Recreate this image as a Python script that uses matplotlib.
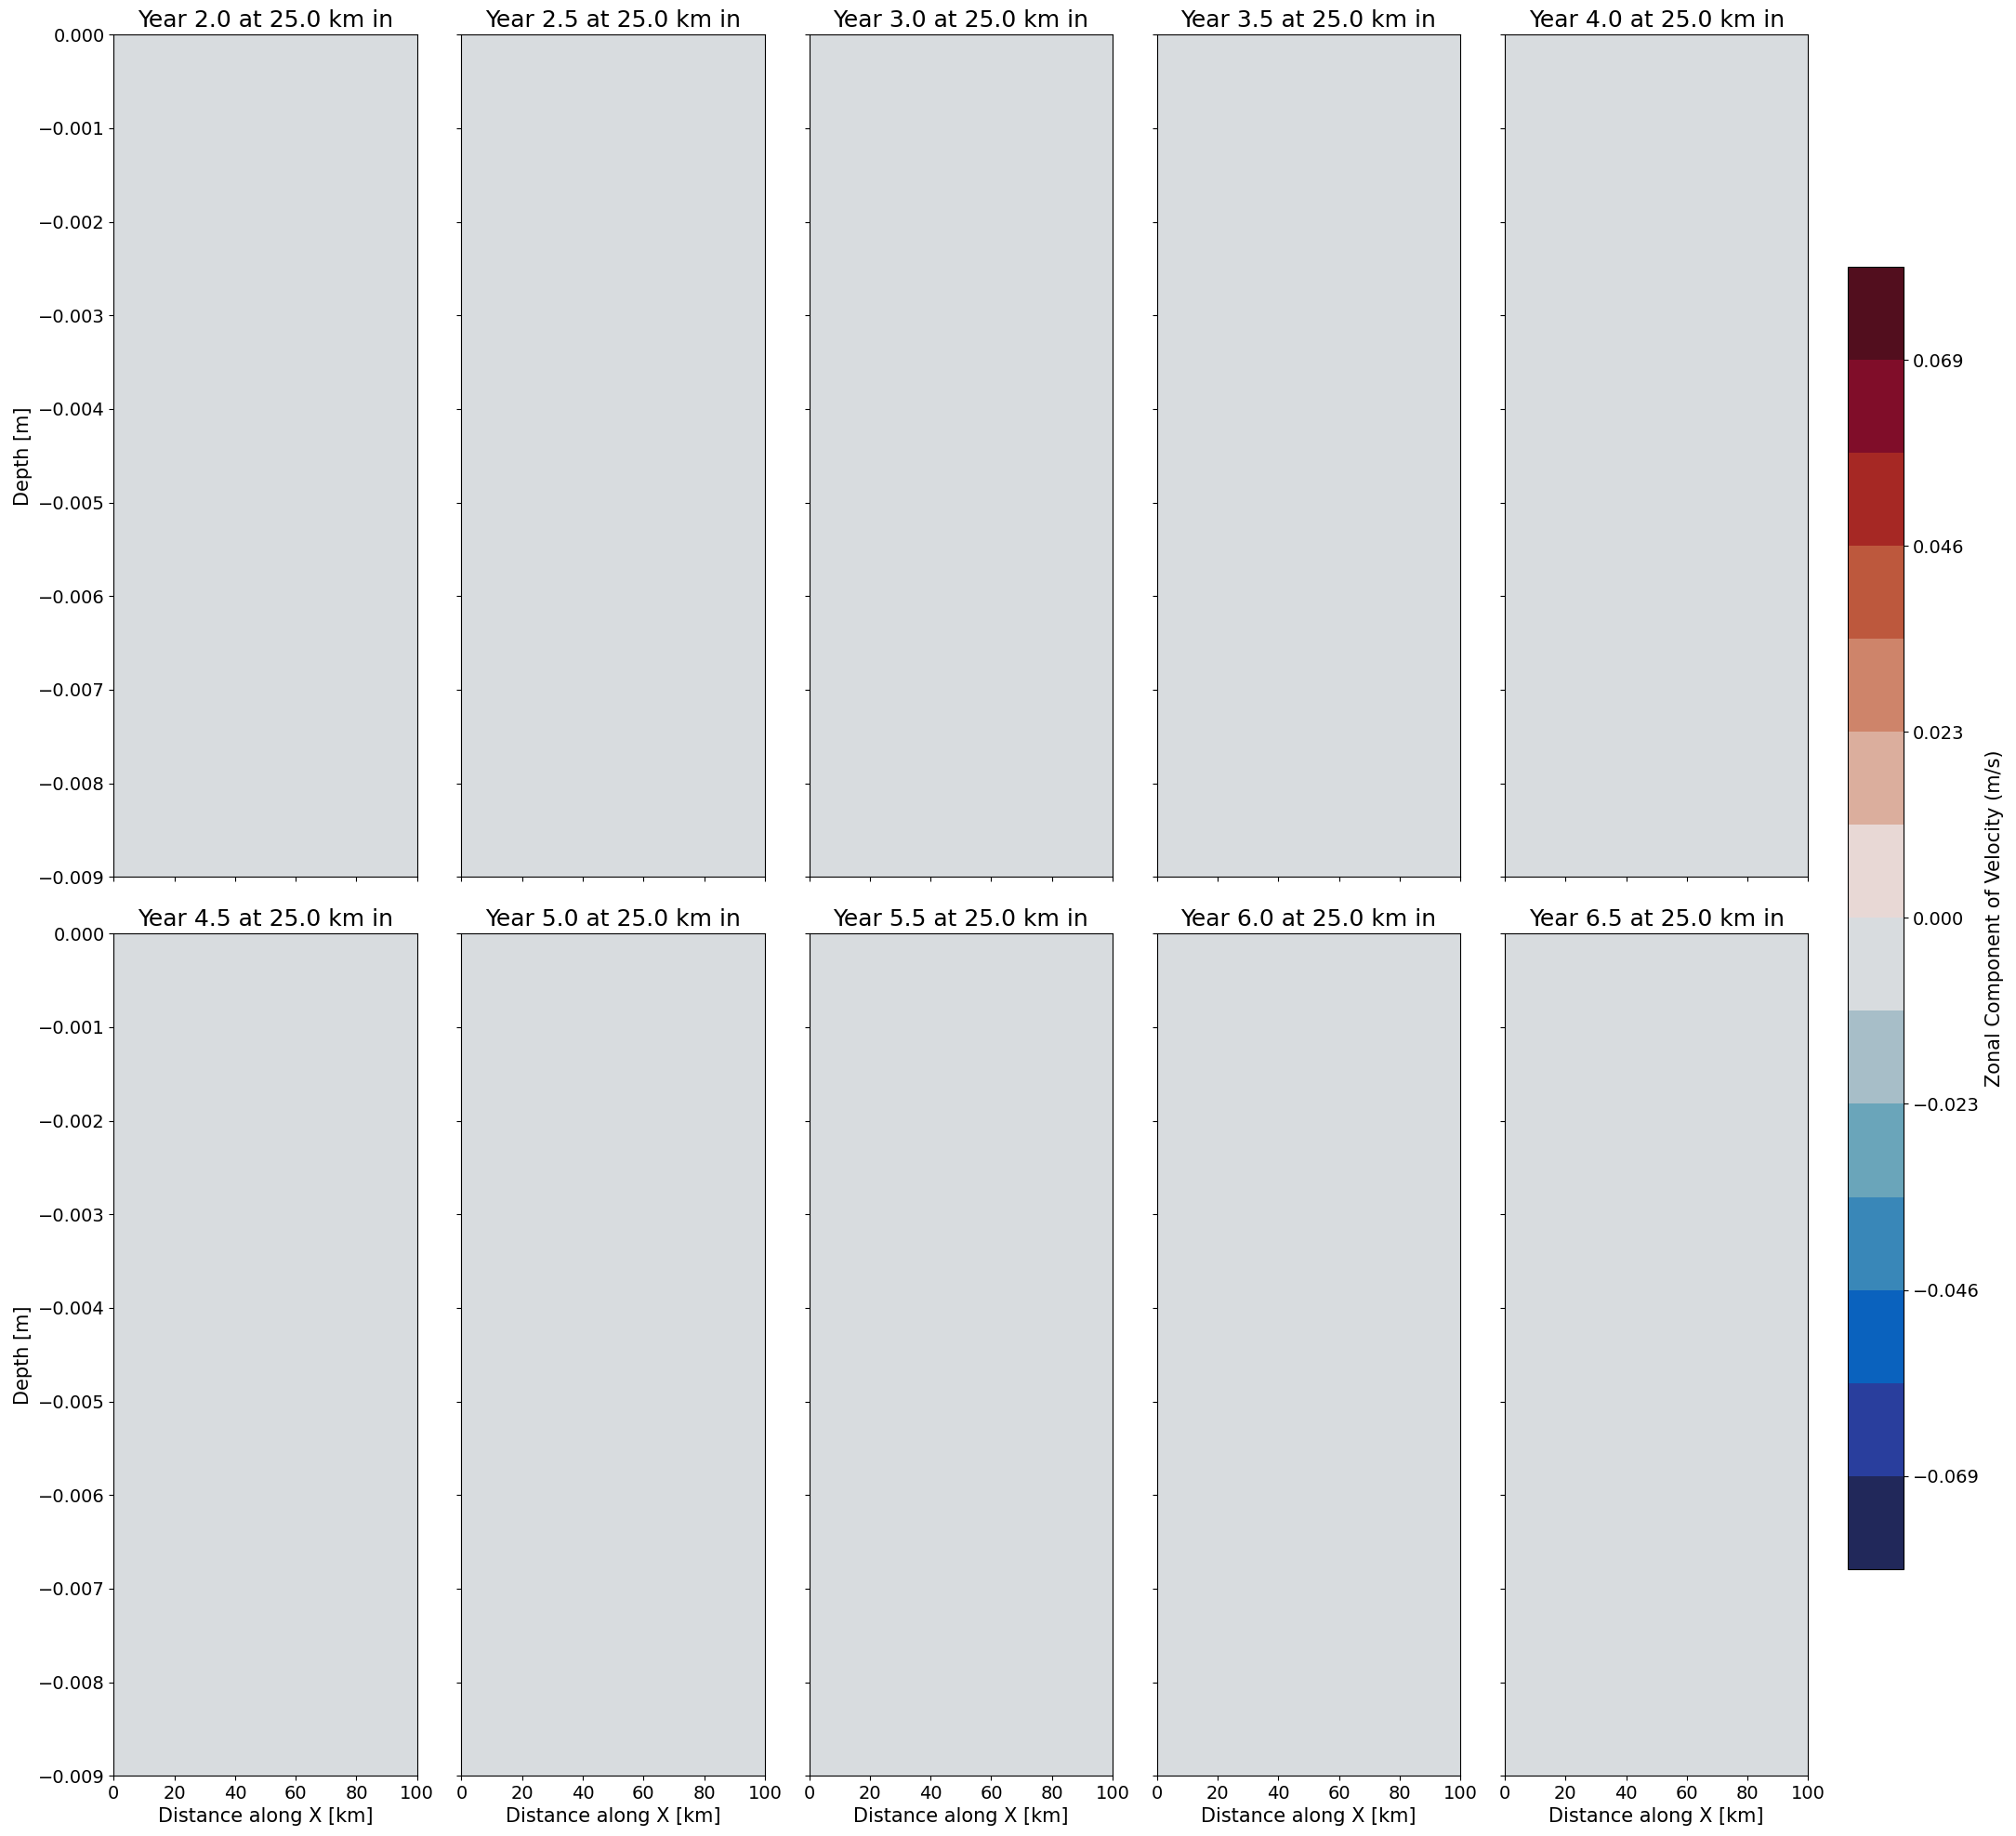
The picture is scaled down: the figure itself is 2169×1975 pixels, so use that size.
import numpy as np
import matplotlib.pyplot as plt
from matplotlib.colors import ListedColormap
from matplotlib.ticker import FuncFormatter

# snapshot years and section position
years = [2.0, 2.5, 3.0, 3.5, 4.0, 4.5, 5.0, 5.5, 6.0, 6.5]
section_km = 25.0

# grid of the section
x_km = [0.0, 25.0, 50.0, 75.0, 100.0]
depth_m = [-0.009, -0.006, -0.003, 0.0]

# zonal velocity along the section (m/s) - flat zero field every year
u_zonal = {yr: [[0.0] * len(x_km) for _ in depth_m] for yr in years}

# contour levels and colors (balance-like diverging map)
levels = list(np.linspace(-0.08, 0.08, 15))
balance_colors = ['#21285A', '#293E9D', '#0A62BE', '#3987B8', '#6AA5BA',
                  '#A7BEC8', '#D8DCDF', '#E8D8D5', '#DBAE9D', '#CE846A',
                  '#BD583D', '#A62824', '#800D29', '#520E1E']
cmap = ListedColormap(balance_colors)

x_ticks = [0, 20, 40, 60, 80, 100]
y_ticks = list(np.linspace(-0.009, 0.0, 10))

plt.rcParams['font.size'] = 14

fig = plt.figure(figsize=(21.69, 19.75), dpi=100)

left0 = 0.0564
ax_w = 0.1505
pitch = 0.1725
ax_h = 0.4587
row_bottoms = [0.5224, 0.0328]

for i, yr in enumerate(years):
    row, col = divmod(i, 5)
    ax = fig.add_axes([left0 + col * pitch, row_bottoms[row], ax_w, ax_h])
    X, Z = np.meshgrid(x_km, depth_m)
    cf = ax.contourf(X, Z, np.array(u_zonal[yr]), levels=levels, cmap=cmap)
    ax.set_xlim(0, 100)
    ax.set_ylim(-0.009, 0)
    ax.set_xticks(x_ticks)
    ax.set_yticks(y_ticks)
    ax.set_title(f"Year {yr:.1f} at {section_km:.1f} km in", fontsize=18)
    if row == 1:
        ax.set_xlabel("Distance along X [km]", fontsize=15)
    else:
        ax.tick_params(labelbottom=False)
    if col == 0:
        ax.set_ylabel("Depth [m]", fontsize=15)
    else:
        ax.tick_params(labelleft=False)

cax = fig.add_axes([0.9167, 0.1455, 0.0277, 0.7091])
cb = fig.colorbar(cf, cax=cax, ticks=levels[1::2])
cb.ax.yaxis.set_major_formatter(
    FuncFormatter(lambda v, p: f"{v:.3f}".replace('-', '\u2212')))
cb.set_label("Zonal Component of Velocity (m/s)", fontsize=15)

fig.savefig("out.png", dpi=100)
